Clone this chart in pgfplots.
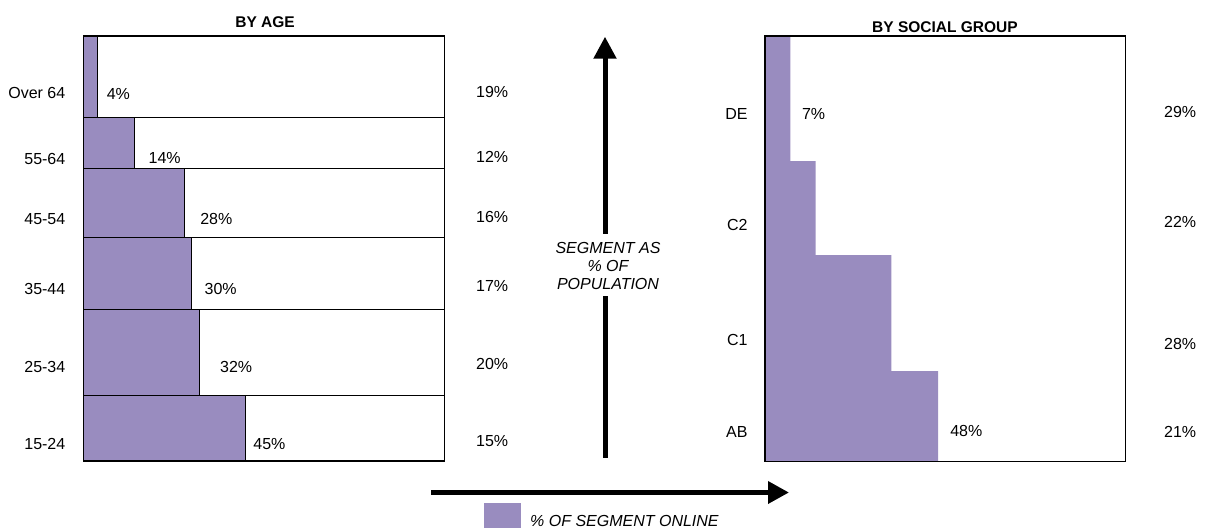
\documentclass[border=0pt]{standalone}
\usepackage{pgfplots}
\pgfplotsset{compat=1.18}
\usepackage{fontspec}
\setmainfont{Liberation Sans}
\usetikzlibrary{arrows.meta}
\definecolor{onl}{RGB}{153,140,191}
\newcommand{\lab}{\fontsize{16bp}{18bp}\selectfont}
\begin{document}
\begin{tikzpicture}[font=\lab]
\path[use as bounding box] (0,0) rectangle (1206bp,-528bp);
% ---------------- BY AGE ----------------
\begin{axis}[
  at={(83.5bp,-461bp)}, anchor=south west, scale only axis,
  width=361bp, height=425bp,
  xmin=0, xmax=100, ymin=0, ymax=100,
  xtick=\empty,
  ytick={4.0,22.1,40.5,56.9,71.1,86.5},
  yticklabels={15-24,25-34,35-44,45-54,55-64,Over 64},
  major tick length=0pt,
  every tick label/.append style={font=\lab},
  yticklabel style={anchor=east, inner sep=0pt, xshift=-18bp},
  axis line style={line width=1.2bp},
  axis on top, clip=false,
  title={BY AGE},
  title style={at={(0.503,1)}, anchor=base, yshift=2.6bp,
    font=\fontsize{15.5bp}{18bp}\selectfont\bfseries},
]
% row frames (full width)
\addplot[xbar interval, fill=white, draw=black, line width=1bp]
  coordinates {(100,0) (100,15.51) (100,35.66) (100,52.49) (100,68.88) (100,80.94) (100,100)};
% share of segment online
\addplot[xbar interval, fill=onl, draw=black, line width=1bp]
  coordinates {(45,0) (32,15.51) (30,35.66) (28,52.49) (14,68.88) (4,80.94) (4,100)};
% labels on bars
\node[anchor=west, inner sep=0pt] at (axis cs:47.0,4.0)  {45\%};
\node[anchor=west, inner sep=0pt] at (axis cs:37.8,22.1) {32\%};
\node[anchor=west, inner sep=0pt] at (axis cs:33.5,40.5) {30\%};
\node[anchor=west, inner sep=0pt] at (axis cs:32.3,56.9) {28\%};
\node[anchor=west, inner sep=0pt] at (axis cs:18.0,71.2) {14\%};
\node[anchor=west, inner sep=0pt] at (axis cs:6.4,86.3)  {4\%};
% segment as % of population
\node[anchor=west, inner sep=0pt] at (axis cs:108.7,4.7)  {15\%};
\node[anchor=west, inner sep=0pt] at (axis cs:108.7,22.8) {20\%};
\node[anchor=west, inner sep=0pt] at (axis cs:108.7,41.2) {17\%};
\node[anchor=west, inner sep=0pt] at (axis cs:108.7,57.4) {16\%};
\node[anchor=west, inner sep=0pt] at (axis cs:108.7,71.5) {12\%};
\node[anchor=west, inner sep=0pt] at (axis cs:108.7,86.9) {19\%};
\end{axis}
% ---------------- BY SOCIAL GROUP ----------------
\begin{axis}[
  at={(765bp,-461.5bp)}, anchor=south west, scale only axis,
  width=360.7bp, height=425.5bp,
  xmin=0, xmax=100, ymin=0, ymax=100,
  xtick=\empty,
  ytick={6.9,28.6,55.5,81.7},
  yticklabels={AB,C1,C2,DE},
  major tick length=0pt,
  every tick label/.append style={font=\lab},
  yticklabel style={anchor=east, inner sep=0pt, xshift=-17.3bp},
  axis line style={line width=1.2bp},
  axis on top, clip=false,
  title={BY SOCIAL GROUP},
  title style={at={(0.499,1)}, anchor=base, yshift=-2.2bp,
    font=\fontsize{15.5bp}{18bp}\selectfont\bfseries},
]
\addplot[xbar interval, fill=onl, draw=none]
  coordinates {(48,0) (35,21.27) (14,48.5) (7,70.6) (7,100)};
\node[anchor=west, inner sep=0pt] at (axis cs:51.3,7.2)  {48\%};
\node[anchor=west, inner sep=0pt] at (axis cs:10.2,81.7) {7\%};
\node[anchor=west, inner sep=0pt] at (axis cs:110.6,6.9)  {21\%};
\node[anchor=west, inner sep=0pt] at (axis cs:110.6,27.6) {28\%};
\node[anchor=west, inner sep=0pt] at (axis cs:110.6,56.3) {22\%};
\node[anchor=west, inner sep=0pt] at (axis cs:110.6,82.1) {29\%};
\end{axis}
% ---------------- arrows and captions ----------------
\draw[line width=5bp, -{Triangle[width=22bp,length=22bp]}] (605bp,-233.5bp) -- (605bp,-36.7bp);
\draw[line width=5bp] (605bp,-296bp) -- (605bp,-458bp);
\node[align=center, inner sep=0pt, font=\lab\itshape] at (608bp,-266.3bp) {SEGMENT AS\\\% OF\\POPULATION};
\draw[line width=5bp, -{Triangle[width=21.5bp,length=21bp]}] (431bp,-492.5bp) -- (789bp,-492.5bp);
\fill[onl] (484bp,-502.7bp) rectangle (520.7bp,-528bp);
\node[anchor=base west, inner sep=0pt, font=\lab\itshape] at (530bp,-526.7bp) {\% OF SEGMENT ONLINE};
\end{tikzpicture}
\end{document}
